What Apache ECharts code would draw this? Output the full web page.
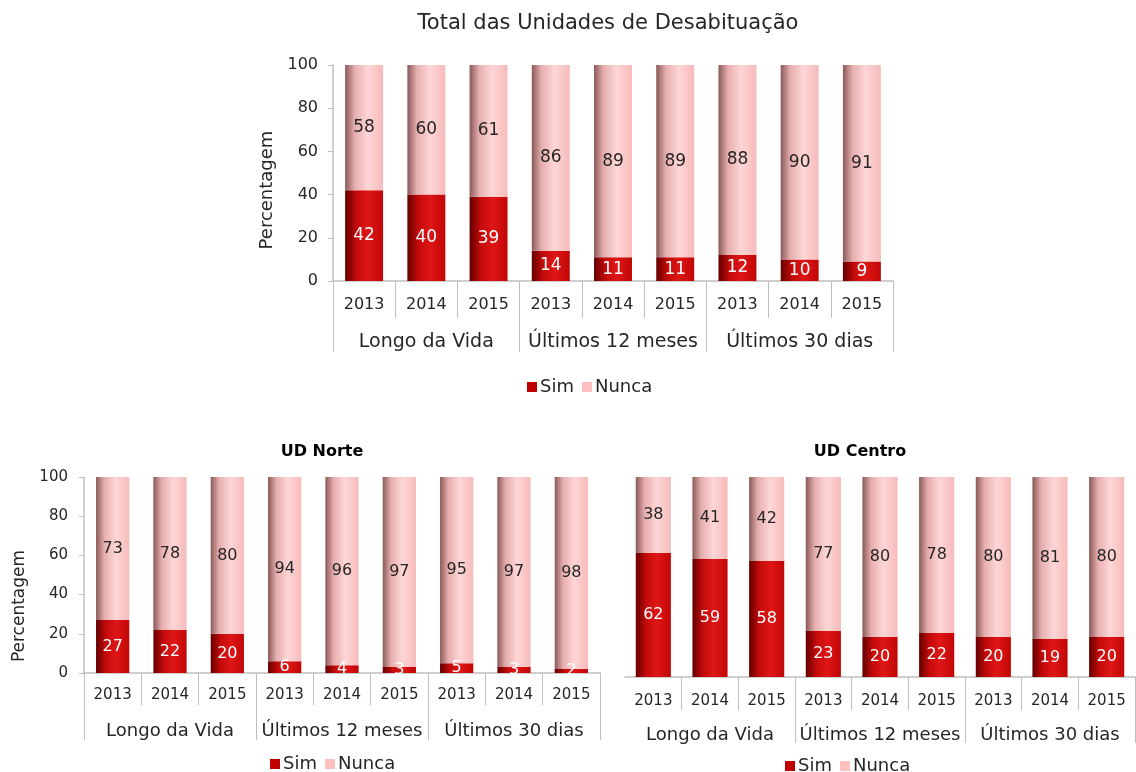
<!DOCTYPE html>
<html>
<head>
<meta charset="utf-8">
<script src="https://cdn.jsdelivr.net/npm/echarts@6/dist/echarts.min.js"></script>
<style>
  html, body { margin: 0; padding: 0; background: #ffffff; }
  #chart { width: 1136px; height: 772px; }
</style>
</head>
<body>
<div id="chart"></div>
<script>
// Categories: three years inside each of three time periods
const years = ['2013', '2014', '2015'];
const periods = ['Longo da Vida', 'Últimos 12 meses', 'Últimos 30 dias'];
const yearLabels = periods.flatMap(() => years);
const yTicks = [0, 20, 40, 60, 80, 100];

// Total das Unidades de Desabituação
const totalSim   = [42, 40, 39, 14, 11, 11, 12, 10, 9];
const totalNunca = [58, 60, 61, 86, 89, 89, 88, 90, 91];

// UD Norte
const norteSim   = [27, 22, 20, 6, 4, 3, 5, 3, 2];
const norteNunca = [73, 78, 80, 94, 96, 97, 95, 97, 98];

// UD Centro
const centroSim   = [62, 59, 58, 23, 20, 22, 20, 19, 20];
const centroNunca = [38, 41, 42, 77, 80, 78, 80, 81, 80];

const FONT = 'DejaVu Sans';
const TEXT = '#262626';
const LINE = '#bfbfbf';

// cylinder-like horizontal shading for the bars
const simFill = new echarts.graphic.LinearGradient(0, 0, 1, 0, [
  { offset: 0, color: '#640000' },
  { offset: 0.3, color: '#c40a0a' },
  { offset: 0.6, color: '#de1616' },
  { offset: 1, color: '#c20606' }
]);
const nuncaFill = new echarts.graphic.LinearGradient(0, 0, 1, 0, [
  { offset: 0, color: '#8a5858' },
  { offset: 0.25, color: '#e6aeae' },
  { offset: 0.6, color: '#ffd6d6' },
  { offset: 1, color: '#f6baba' }
]);

// per-panel layout
const panels = [
  { sim: totalSim, nunca: totalNunca, left: 333, width: 560, top: 65, height: 216,
    fs: 16, groupFs: 19, nameFs: 18, labelFs: 17, barW: '61%', yMargin: 15,
    yearMargin: 16, yearTick: 37, groupMargin: 52, groupTick: 71, showY: true,
    nameGap: 57, nameShift: 34, skipFirstTick: false },
  { sim: norteSim, nunca: norteNunca, left: 84, width: 516, top: 477, height: 196,
    fs: 15, groupFs: 18, nameFs: 17, labelFs: 16, barW: '58%', yMargin: 16,
    yearMargin: 15, yearTick: 32, groupMargin: 49, groupTick: 67, showY: true,
    nameGap: 56, nameShift: 62, skipFirstTick: false },
  { sim: centroSim, nunca: centroNunca, left: 625, width: 510, top: 477, height: 200,
    fs: 15, groupFs: 18, nameFs: 17, labelFs: 16, barW: '62%', yMargin: 16,
    yearMargin: 17, yearTick: 33, groupMargin: 49, groupTick: 66, showY: false,
    nameGap: 50, nameShift: 0, skipFirstTick: true }
];

const grid = [], xAxis = [], yAxis = [], series = [];
panels.forEach((p, i) => {
  grid.push({ left: p.left, top: p.top, width: p.width, height: p.height });
  const tickInterval = p.skipFirstTick ? (idx) => idx !== 0 : 0;
  // year row
  xAxis.push({
    type: 'category', gridIndex: i, data: yearLabels, position: 'bottom',
    axisLine: { show: true, lineStyle: { color: LINE, width: 1.5 } },
    axisTick: { show: true, interval: tickInterval, length: p.yearTick, lineStyle: { color: LINE } },
    axisLabel: { interval: 0, margin: p.yearMargin, color: TEXT, fontFamily: FONT, fontSize: p.fs },
    splitLine: { show: false }
  });
  // period row
  xAxis.push({
    type: 'category', gridIndex: i, data: periods, position: 'bottom',
    axisLine: { show: false },
    axisTick: { show: true, interval: tickInterval, length: p.groupTick, lineStyle: { color: LINE } },
    axisLabel: { interval: 0, margin: p.groupMargin, color: TEXT, fontFamily: FONT, fontSize: p.groupFs },
    splitLine: { show: false }
  });
  yAxis.push({
    type: 'value', gridIndex: i, min: yTicks[0], max: yTicks[yTicks.length - 1], interval: 20,
    name: p.showY ? 'Percentagem' : '', nameLocation: 'middle', nameRotate: 90, nameGap: p.nameGap,
    nameTextStyle: { color: TEXT, fontFamily: FONT, fontSize: p.nameFs, padding: [0, p.nameShift, 0, 0] },
    axisLine: { show: p.showY, lineStyle: { color: LINE, width: 1.5 } },
    axisTick: { show: p.showY, length: 5, lineStyle: { color: LINE } },
    axisLabel: { show: p.showY, margin: p.yMargin, color: TEXT, fontFamily: FONT, fontSize: p.fs },
    splitLine: { show: false }
  });
  const base = { type: 'bar', stack: 'p' + i, xAxisIndex: i * 2, yAxisIndex: i, barWidth: p.barW };
  series.push(Object.assign({}, base, {
    name: 'Sim', data: p.sim,
    itemStyle: { color: simFill },
    label: { show: true, position: 'inside', color: '#ffffff', fontFamily: FONT, fontSize: p.labelFs }
  }));
  series.push(Object.assign({}, base, {
    name: 'Nunca', data: p.nunca,
    itemStyle: { color: nuncaFill },
    label: { show: true, position: 'inside', color: TEXT, fontFamily: FONT, fontSize: p.labelFs }
  }));
});

const legendItems = [
  { name: 'Sim', itemStyle: { color: '#c00000' } },
  { name: 'Nunca', itemStyle: { color: '#ffc0c0' } }
];
const legendBase = {
  data: legendItems, icon: 'rect', itemWidth: 10, itemHeight: 10, itemGap: 8,
  selectedMode: false, textStyle: { color: TEXT, fontFamily: FONT, fontSize: 18, padding: [0, 0, 0, -2] }
};

const option = {
  animation: false,
  title: [
    { text: 'Total das Unidades de Desabituação', left: 603, top: 8, textAlign: 'center',
      textStyle: { fontFamily: FONT, fontSize: 21, fontWeight: 'normal', color: TEXT } },
    { text: 'UD Norte', left: 317, top: 439, textAlign: 'center',
      textStyle: { fontFamily: FONT, fontSize: 16, fontWeight: 'bold', color: '#000' } },
    { text: 'UD Centro', left: 855, top: 439, textAlign: 'center',
      textStyle: { fontFamily: FONT, fontSize: 16, fontWeight: 'bold', color: '#000' } }
  ],
  legend: [
    Object.assign({}, legendBase, { left: 522, top: 373 }),
    Object.assign({}, legendBase, { left: 265, top: 750 }),
    Object.assign({}, legendBase, { left: 780, top: 752 })
  ],
  grid: grid,
  xAxis: xAxis,
  yAxis: yAxis,
  series: series
};

echarts.init(document.getElementById('chart'), null, { renderer: 'canvas' }).setOption(option);
</script>
</body>
</html>
